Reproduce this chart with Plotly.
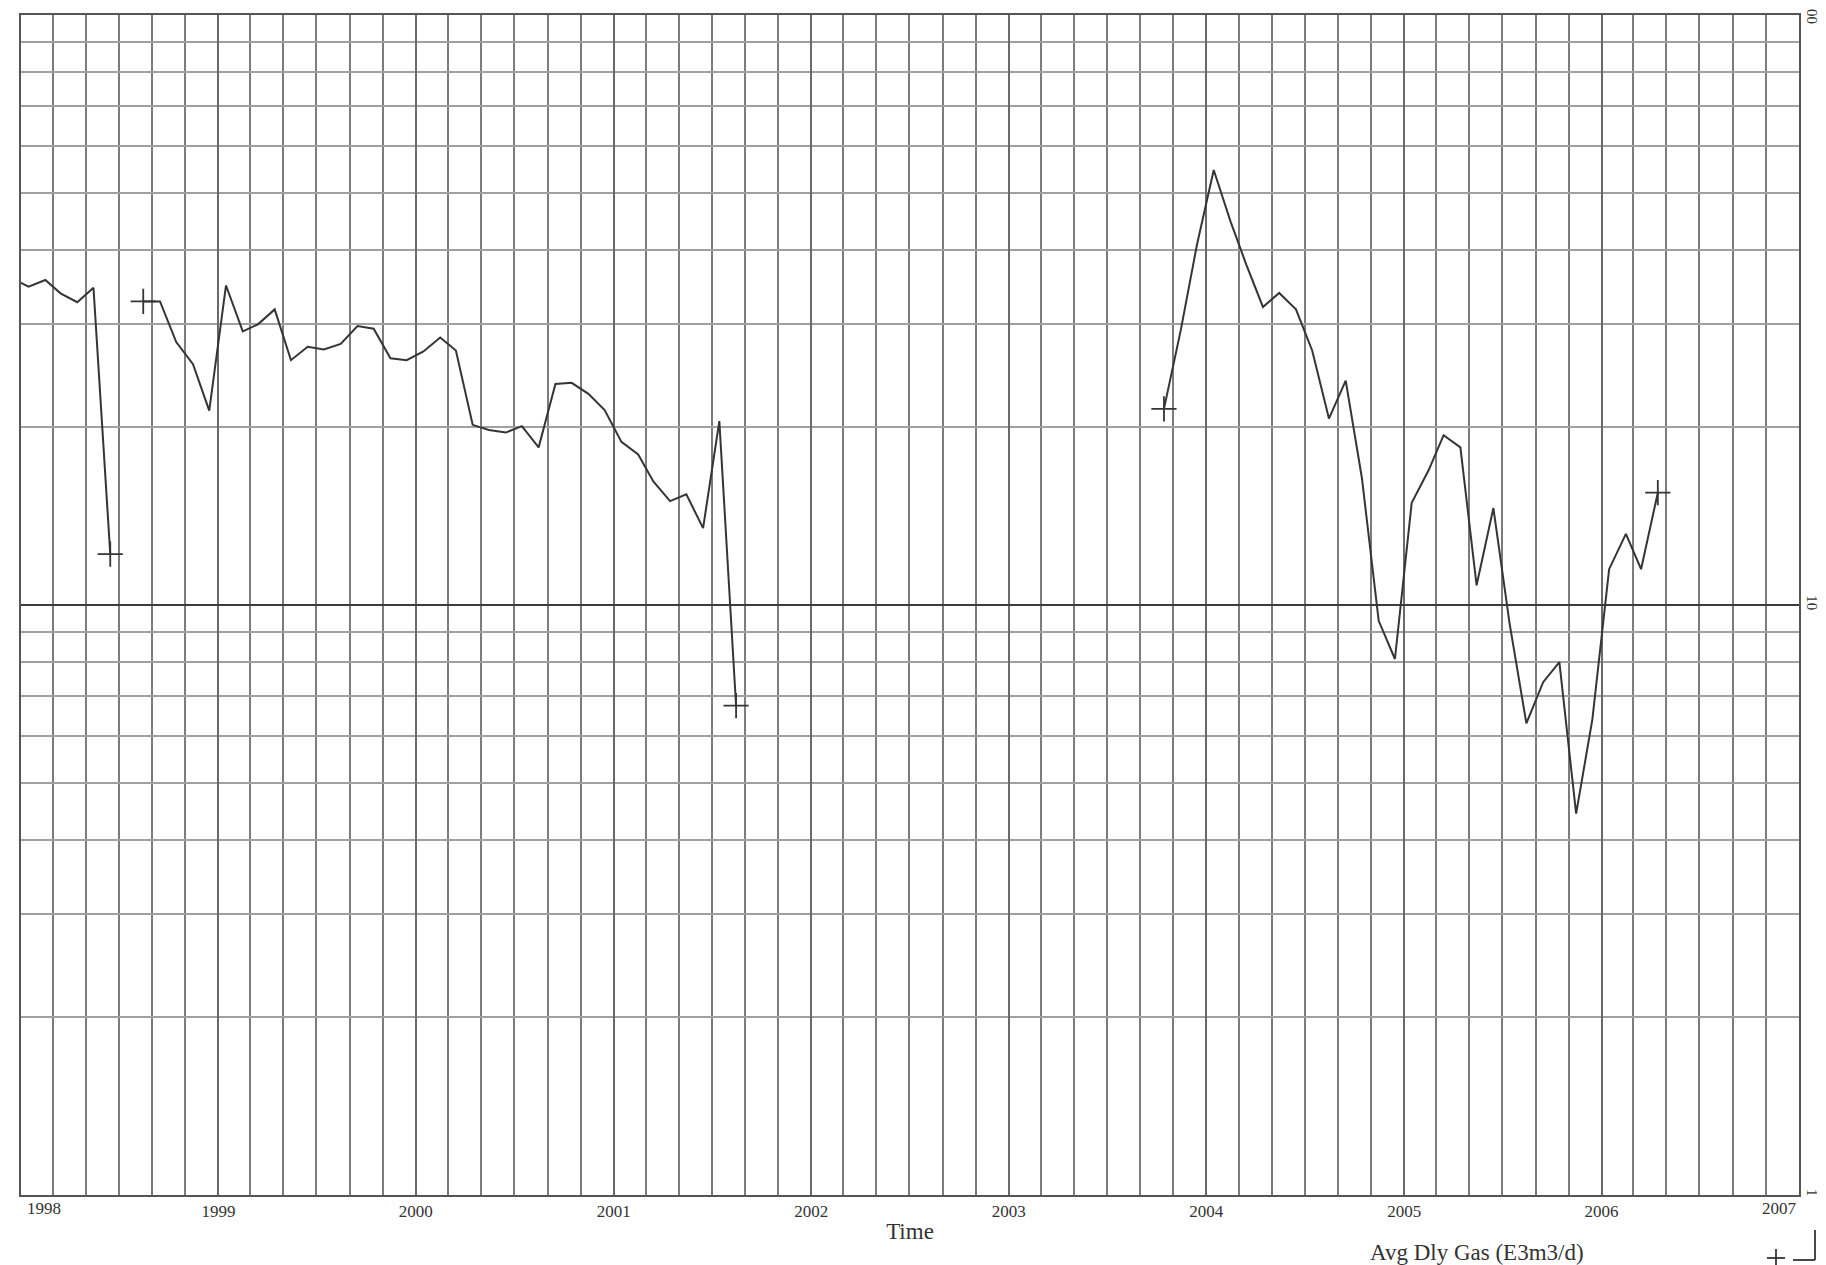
import plotly.graph_objects as go

# ---- data (monthly average daily gas, E3m3/d; points at mid-month) ----
seg1_dates = ["1997-12-15", "1998-01-15", "1998-02-15", "1998-03-15", "1998-04-15",
              "1998-05-15", "1998-06-15"]
seg1_vals = [35.8, 34.65, 35.55, 33.75, 32.6, 34.5, 12.2]

seg2_dates = ["1998-08-15", "1998-09-15", "1998-10-15", "1998-11-15", "1998-12-15",
              "1999-01-15", "1999-02-15", "1999-03-15", "1999-04-15", "1999-05-15", "1999-06-15",
              "1999-07-15", "1999-08-15", "1999-09-15", "1999-10-15", "1999-11-15", "1999-12-15",
              "2000-01-15", "2000-02-15", "2000-03-15", "2000-04-15", "2000-05-15", "2000-06-15",
              "2000-07-15", "2000-08-15", "2000-09-15", "2000-10-15", "2000-11-15", "2000-12-15",
              "2001-01-15", "2001-02-15", "2001-03-15", "2001-04-15", "2001-05-15", "2001-06-15",
              "2001-07-15", "2001-08-15"]
seg2_vals = [32.7, 32.7, 27.9, 25.6, 21.35,
             34.8, 29.1, 29.9, 31.7, 26.0, 27.4, 27.1, 27.7, 29.7, 29.4, 26.2, 26.0,
             26.9, 28.4, 27.0, 20.2, 19.8, 19.6, 20.1, 18.5, 23.7, 23.8, 22.8, 21.4,
             18.9, 18.0, 16.2, 15.0, 15.4, 13.5, 20.5, 6.75]

seg3_dates = ["2003-10-15", "2003-11-15", "2003-12-15",
              "2004-01-15", "2004-02-15", "2004-03-15", "2004-04-15", "2004-05-15", "2004-06-15",
              "2004-07-15", "2004-08-15", "2004-09-15", "2004-10-15", "2004-11-15", "2004-12-15",
              "2005-01-15", "2005-02-15", "2005-03-15", "2005-04-15", "2005-05-15", "2005-06-15",
              "2005-07-15", "2005-08-15", "2005-09-15", "2005-10-15", "2005-11-15", "2005-12-15",
              "2006-01-15", "2006-02-15", "2006-03-15", "2006-04-15"]
seg3_vals = [21.5, 29.2, 40.8,
             54.6, 44.7, 37.8, 32.0, 33.8, 31.7, 27.0, 20.7, 24.0, 16.4, 9.4, 8.1,
             14.9, 16.9, 19.4, 18.5, 10.8, 14.6, 9.3, 6.3, 7.4, 8.0, 4.43, 6.4,
             11.5, 13.2, 11.5, 15.5]

year_labels = ["1998", "1999", "2000", "2001", "2002", "2003", "2004", "2005", "2006", "2007"]
y_tick_vals = [1, 10, 100]
y_minor_vals = [2, 3, 4, 5, 6, 7, 8, 9, 20, 30, 40, 50, 60, 70, 80, 90]
series_name = "Avg Dly Gas (E3m3/d)"

X_START, X_END = "1998-01-01", "2007-01-01"

# ---- build traces ----
segments = [(seg1_dates, seg1_vals), (seg2_dates, seg2_vals), (seg3_dates, seg3_vals)]
line_x, line_y = [], []
mk_x, mk_y = [], []
for i, (d, v) in enumerate(segments):
    if i:
        line_x.append(None)
        line_y.append(None)
    line_x += d
    line_y += v
    for j in (0, -1):
        if d[j] >= X_START:
            mk_x.append(d[j])
            mk_y.append(v[j])

FONT = "Liberation Serif"
LINE_C = "#353535"
TXT_C = "#333333"

fig = go.Figure()
fig.add_trace(go.Scatter(x=line_x, y=line_y, mode="lines", connectgaps=False,
                         line=dict(color=LINE_C, width=2), name=series_name))
fig.add_trace(go.Scatter(x=mk_x, y=mk_y, mode="markers",
                         marker=dict(symbol="cross-thin", size=18,
                                     line=dict(color=LINE_C, width=1.8)),
                         name=series_name, showlegend=False))

L, R, T, B = 13, 1791, 7, 1187
W, H = 1826, 1265


def px(x):
    return (x - L) / (R - L)


def py(y):
    return (B - y) / (B - T)


fig.update_layout(
    width=W, height=H,
    margin=dict(l=L, r=W - R, t=T, b=H - B, autoexpand=False),
    paper_bgcolor="white", plot_bgcolor="white",
    showlegend=False,
    xaxis=dict(
        type="date", range=[X_START, X_END], automargin=False,
        tickvals=[f"{y}-01-01" for y in year_labels[1:-1]],
        ticktext=year_labels[1:-1],
        ticks="", showgrid=True, gridcolor="#6a6a6a", gridwidth=1.6,
        minor=dict(dtick="M2", tick0="1998-01-01", showgrid=True,
                   gridcolor="#7c7c7c", gridwidth=1.5, ticks=""),
        showline=True, mirror=True, linecolor="#555555", linewidth=2,
        tickfont=dict(family=FONT, size=17, color=TXT_C),
        title=dict(text="Time", font=dict(family=FONT, size=23, color=TXT_C), standoff=2),
        zeroline=False,
    ),
    yaxis=dict(
        type="log", range=[0, 2], side="right", automargin=False,
        tickvals=y_tick_vals, ticktext=[str(v) for v in y_tick_vals],
        tickangle=90, ticks="", ticklabeloverflow="allow",
        showgrid=True, gridcolor="#3c3c3c", gridwidth=2,
        minor=dict(tickvals=y_minor_vals, showgrid=True, gridcolor="#a0a0a0",
                   gridwidth=1.5, ticks=""),
        showline=True, mirror=True, linecolor="#555555", linewidth=2,
        tickfont=dict(family=FONT, size=15, color=TXT_C),
        zeroline=False,
    ),
    annotations=[
        dict(x=X_START, y=0, xref="x", yref="paper", text=year_labels[0], showarrow=False,
             xanchor="left", yanchor="top", xshift=4, yshift=-2,
             font=dict(family=FONT, size=17, color=TXT_C)),
        dict(x=X_END, y=0, xref="x", yref="paper", text=year_labels[-1], showarrow=False,
             xanchor="right", yanchor="top", xshift=0, yshift=-2,
             font=dict(family=FONT, size=17, color=TXT_C)),
        dict(x=px(1469), y=py(1244), xref="paper", yref="paper", text=series_name,
             showarrow=False, xanchor="center", yanchor="middle", borderpad=0,
             font=dict(family=FONT, size=23, color=TXT_C)),
    ],
    shapes=[
        dict(type="line", xref="paper", yref="paper", x0=px(1759), x1=px(1777),
             y0=py(1250), y1=py(1250), line=dict(color=LINE_C, width=1.8)),
        dict(type="line", xref="paper", yref="paper", x0=px(1768), x1=px(1768),
             y0=py(1241), y1=py(1259), line=dict(color=LINE_C, width=1.8)),
        dict(type="line", xref="paper", yref="paper", x0=px(1785), x1=px(1807),
             y0=py(1252), y1=py(1252), line=dict(color=LINE_C, width=1.8)),
        dict(type="line", xref="paper", yref="paper", x0=px(1807), x1=px(1807),
             y0=py(1222), y1=py(1252), line=dict(color=LINE_C, width=1.8)),
    ],
)

fig.write_html("out.html")
